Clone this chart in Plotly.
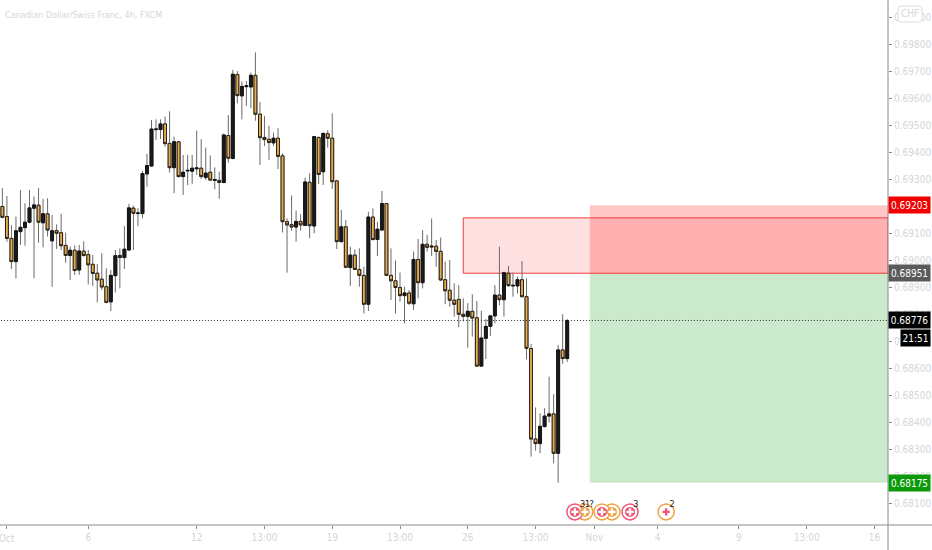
import plotly.graph_objects as go
import numpy as np

# prices in points (1e-5)
opens_pts = [69198, 69161, 69080, 68994, 69105, 69120, 69140, 69192, 69203, 69138, 69171, 69071, 69109, 69101, 69054, 69017,
             69036, 68963, 69033, 69020, 68984, 68951, 68929, 68901, 68845, 68942, 69017, 69009, 69037, 69192, 69172, 69172,
             69319, 69348, 69483, 69483, 69504, 69432, 69342, 69438, 69309, 69330, 69329, 69338, 69340, 69306, 69325, 69295,
             69295, 69287, 69461, 69376, 69687, 69608, 69642, 69641, 69684, 69540, 69454, 69447, 69434, 69451,
             69386, 69142, 69131, 69122, 69143, 69128, 69288, 69126, 69454, 69327, 69468, 69451, 69293, 69068, 69123, 68972,
             69018, 68965, 68943, 68836, 69159, 69076, 69111, 69209, 68943, 68923, 68898, 68868, 68878, 68838, 69002, 68916,
             69058, 69048, 69051, 69032, 68927, 68888, 68851, 68854, 68799, 68791, 68810, 68786, 68607, 68710, 68754, 68793,
             68870, 68853, 68951, 68904, 68904, 68927, 68864, 68672, 68337, 68320, 68383, 68422, 68430, 68284, 68667, 68635]
highs_pts = [69266, 69237, 69129, 69161, 69259, 69210, 69259, 69235, 69266, 69226, 69229, 69167, 69132, 69171, 69101, 69050,
             69054, 69056, 69069, 69037, 69019, 68985, 69025, 68969, 68963, 69037, 69043, 69126, 69208, 69201, 69192, 69330,
             69393, 69519, 69521, 69521, 69531, 69551, 69457, 69441, 69389, 69389, 69389, 69479, 69448, 69416, 69387, 69343,
             69327, 69469, 69537, 69704, 69700, 69661, 69663, 69694, 69769, 69585, 69534, 69497, 69472, 69488,
             69395, 69154, 69239, 69183, 69170, 69305, 69321, 69460, 69457, 69472, 69481, 69543, 69296, 69185, 69148, 69049,
             69039, 69043, 68975, 69179, 69191, 69142, 69256, 69210, 69043, 68998, 68954, 68901, 68889, 69031, 69078, 69111,
             69093, 69154, 69074, 69083, 68994, 69000, 68914, 68907, 68858, 68840, 68873, 68848, 68812, 68781, 68796, 68907,
             69049, 68957, 68978, 68953, 68938, 68996, 68932, 68689, 68454, 68432, 68451, 68568, 68503, 68685, 68799, 68781]
lows_pts = [69154, 69068, 68967, 68932, 69056, 69053, 69136, 68932, 69064, 69047, 69087, 68901, 69041, 69037, 68990, 68926,
            68945, 68945, 69012, 68910, 68904, 68843, 68889, 68840, 68811, 68880, 68895, 68967, 69035, 69037, 69126, 69154,
            69272, 69346, 69445, 69448, 69420, 69324, 69247, 69306, 69241, 69277, 69282, 69315, 69300, 69296, 69294, 69262,
            69227, 69284, 69361, 69373, 69580, 69521, 69571, 69562, 69516, 69352, 69422, 69371, 69422, 69337,
            69102, 68953, 69109, 69068, 69109, 69126, 69080, 69099, 69281, 69278, 69416, 69263, 69041, 69065, 68970, 68904,
            68963, 68901, 68802, 68811, 69072, 69015, 69109, 68941, 68852, 68802, 68846, 68765, 68833, 68815, 68858, 68895,
            69031, 69015, 68975, 68922, 68836, 68827, 68790, 68751, 68772, 68675, 68716, 68605, 68605, 68633, 68718, 68765,
            68833, 68790, 68901, 68864, 68877, 68862, 68632, 68272, 68294, 68284, 68380, 68398, 68247, 68175, 68615, 68623]
closes_pts = [69158, 69080, 68994, 69108, 69121, 69140, 69193, 69204, 69140, 69171, 69111, 69108, 69099, 69053, 69017, 69036,
              68961, 69033, 69017, 68982, 68950, 68926, 68900, 68843, 68943, 69016, 69009, 69040, 69193, 69173, 69174, 69320,
              69350, 69485, 69485, 69504, 69431, 69342, 69438, 69309, 69325, 69332, 69340, 69341, 69309, 69322, 69296, 69298,
              69287, 69463, 69377, 69688, 69609, 69643, 69645, 69684, 69540, 69453, 69446, 69435, 69451, 69384,
              69142, 69130, 69122, 69143, 69130, 69289, 69127, 69457, 69317, 69469, 69451, 69290, 69068, 69123, 68973, 69018,
              68965, 68943, 68836, 69159, 69076, 69114, 69209, 68943, 68923, 68898, 68868, 68878, 68840, 69002, 68916, 69058,
              69047, 69051, 69032, 68926, 68886, 68851, 68836, 68799, 68791, 68810, 68785, 68607, 68711, 68754, 68793, 68870,
              68853, 68953, 68905, 68906, 68927, 68864, 68673, 68337, 68320, 68384, 68422, 68430, 68284, 68667, 68635, 68776]

tick_idx = [1, 19, 43, 58, 73, 88, 103, 118, 131, 145, 163, 178, 193]
tick_text = ["", "6", "12", "13:00", "19", "13:00", "26", "13:00", "Nov", "4", "9", "13:00", "16"]
first_label = "Oct"
price_ticks = [0.681, 0.682, 0.683, 0.684, 0.685, 0.686, 0.687, 0.688, 0.689, 0.690, 0.691,
               0.692, 0.693, 0.694, 0.695, 0.696, 0.697, 0.698, 0.699]

entry = 0.68951
stop = 0.69203
target = 0.68175
last_price = 0.68776
zone_top = 0.69156
zone_start = 102
position_start = 130

event_idx = [128.9, 126.7, 134.9, 132.7, 138.9, 146.9]
event_ring = ["#f0a040", "#ee5572", "#f0a040", "#f0a040", "#ee5572", "#f0a040"]
event_core = ["#f0a040", "#ee5572", "#f0a040", "#ee5572", "#ee5572", "#ffffff"]
event_price = 0.68067
count_idx = [128.4, 129.5, 130.4, 140.2, 148.2]
count_text = ["3", "1", "?", "3", "2"]
count_price = 0.68095

FONT = "DejaVu Sans Condensed, Roboto, sans-serif"
GREY = "#d6d6d6"
AXIS = "#8a8a8a"
W, H = 888.0, 525.0

o = np.array(opens_pts) / 1e5
h = np.array(highs_pts) / 1e5
l = np.array(lows_pts) / 1e5
c = np.array(closes_pts) / 1e5
x = list(range(len(o)))
x_max = 196.0


def rounded(x0, y0, x1, y1, r):
    # rounded box in page pixels, turned into paper coordinates
    def p(a, b):
        return f"{a / W:.5f},{1 - b / H:.5f}"
    return (f"M {p(x0 + r, y0)} L {p(x1 - r, y0)} Q {p(x1, y0)} {p(x1, y0 + r)} L {p(x1, y1 - r)} "
            f"Q {p(x1, y1)} {p(x1 - r, y1)} L {p(x0 + r, y1)} Q {p(x0, y1)} {p(x0, y1 - r)} "
            f"L {p(x0, y0 + r)} Q {p(x0, y0)} {p(x0 + r, y0)} Z")


def tag(price, text, color, width=41, x_shift=0, y_shift=0):
    return dict(x=1, xref="paper", y=price, yref="y", xanchor="left", yanchor="middle", text=text,
                showarrow=False, bgcolor=color, width=width, height=16, borderpad=0, align="center",
                xshift=x_shift, yshift=y_shift, font=dict(family=FONT, size=10, color="white"))


# wicks first, bodies on top so the wicks stay grey
wicks = go.Candlestick(x=x, open=o, high=h, low=l, close=c, whiskerwidth=0, hoverinfo="skip",
                       increasing=dict(line=dict(color="#6a6a6a", width=1), fillcolor="#1a1a1a"),
                       decreasing=dict(line=dict(color="#6a6a6a", width=1), fillcolor="#e5ac50"))
bodies = go.Candlestick(x=x, open=o, close=c, high=np.maximum(o, c), low=np.minimum(o, c), whiskerwidth=0,
                        hoverinfo="skip",
                        increasing=dict(line=dict(color="#141414", width=1), fillcolor="#1a1a1a"),
                        decreasing=dict(line=dict(color="#2a2014", width=1), fillcolor="#e5ac50"))
rings = go.Scatter(x=event_idx, y=[event_price] * len(event_idx), mode="markers", hoverinfo="skip",
                   marker=dict(size=16, color="white", line=dict(color=event_ring, width=1.5)))
cores = go.Scatter(x=event_idx, y=[event_price] * len(event_idx), mode="markers", hoverinfo="skip",
                   marker=dict(size=10, color=event_core))
crosses = go.Scatter(x=event_idx, y=[event_price] * len(event_idx), mode="markers", hoverinfo="skip",
                     marker=dict(size=6, symbol="cross", color=["white", "white", "white", "white", "white", "#ee5572"]))
counts = go.Scatter(x=count_idx, y=[count_price] * len(count_idx), mode="text", text=count_text, hoverinfo="skip",
                    textfont=dict(family=FONT, size=9, color="#222222"))

fig = go.Figure(data=[wicks, bodies, rings, cores, crosses, counts])

shapes = [
    dict(type="rect", x0=position_start, x1=x_max, y0=target, y1=entry, fillcolor="#cbe9cc",
         line=dict(width=0), layer="below"),
    dict(type="rect", x0=position_start, x1=x_max, y0=entry, y1=stop, fillcolor="#ffc8c8",
         line=dict(width=0), layer="below"),
    dict(type="rect", x0=zone_start, x1=x_max, y0=entry, y1=zone_top, fillcolor="rgba(255,60,60,0.16)",
         line=dict(color="#ee3b3b", width=1), layer="below"),
    dict(type="line", x0=-1, x1=x_max, y0=last_price, y1=last_price, line=dict(color="#333333", width=1, dash="1px,2px")),
    # axis lines run on through the corner to the page edge
    dict(type="line", xref="paper", yref="paper", x0=0, x1=932 / W, y0=0, y1=0, line=dict(color=AXIS, width=1)),
    dict(type="line", xref="paper", yref="paper", x0=1, x1=1, y0=-25 / H, y1=1, line=dict(color=AXIS, width=1)),
    # currency box
    dict(type="path", xref="paper", yref="paper", path=rounded(898, 6, 922, 22, 3), fillcolor="white",
         line=dict(color="#dcdcdc", width=1)),
]

annotations = [
    dict(x=3 / W, xref="paper", y=1 - 15 / H, yref="paper", xanchor="left", yanchor="middle", showarrow=False,
         text="Canadian Dollar/Swiss Franc, 4h, FXCM", font=dict(family=FONT, size=9, color=GREY)),
    dict(x=910 / W, xref="paper", y=1 - 14 / H, yref="paper", xanchor="center", yanchor="middle", showarrow=False,
         text="CHF", font=dict(family=FONT, size=10, color=GREY)),
    dict(x=tick_idx[0], xref="x", y=-13 / H, yref="paper", xanchor="center", yanchor="middle", showarrow=False,
         text=first_label, font=dict(family=FONT, size=10, color=GREY)),
    tag(stop, "0.69203", "#f00000"),
    tag(entry, "0.68951", "#5a5a5a"),
    tag(last_price, "0.68776", "#000000"),
    tag(last_price, "21:51", "#000000", width=29, x_shift=12, y_shift=-18),
    tag(target, "0.68175", "#0a9a0a"),
]

fig.update_layout(
    width=932, height=550, margin=dict(l=0, r=44, t=0, b=25),
    paper_bgcolor="white", plot_bgcolor="white", showlegend=False,
    boxgap=0.2, boxgroupgap=0.2,
    shapes=shapes, annotations=annotations,
    xaxis=dict(type="linear", range=[-0.53, x_max], rangeslider=dict(visible=False), showgrid=False, zeroline=False,
               tickmode="array", tickvals=tick_idx, ticktext=tick_text, ticks="outside", ticklen=3, tickcolor=AXIS,
               tickfont=dict(family=FONT, size=10, color=GREY)),
    yaxis=dict(side="right", range=[0.680185, 0.69963], showgrid=False, zeroline=False, tickmode="array",
               tickvals=price_ticks, ticktext=[f"{t:.5f}" for t in price_ticks], ticks="outside", ticklen=3,
               tickcolor=AXIS, tickfont=dict(family=FONT, size=10, color=GREY)),
)

fig.write_html("out.html", config=dict(displayModeBar=False), post_script="document.body.style.margin='0';")
